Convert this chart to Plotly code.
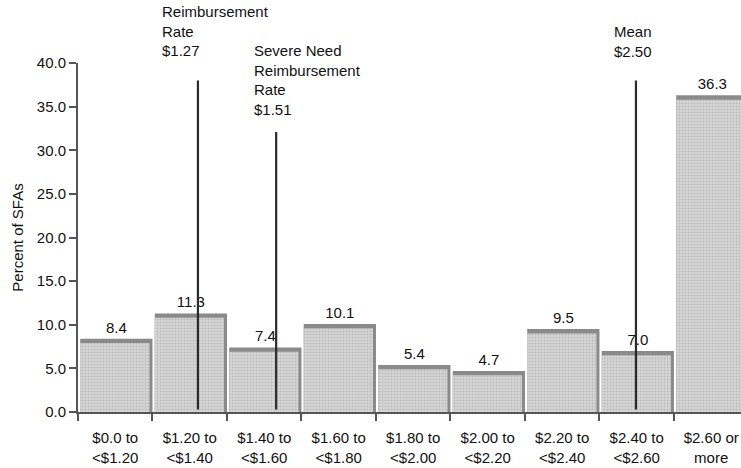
import plotly.graph_objects as go

# ---- data ----
categories = ["$0.0 to<br>&lt;$1.20", "$1.20 to<br>&lt;$1.40", "$1.40 to<br>&lt;$1.60",
              "$1.60 to<br>&lt;$1.80", "$1.80 to<br>&lt;$2.00", "$2.00 to<br>&lt;$2.20",
              "$2.20 to<br>&lt;$2.40", "$2.40 to<br>&lt;$2.60", "$2.60 or<br>more"]
percent_sfas = [8.4, 11.3, 7.4, 10.1, 5.4, 4.7, 9.5, 7.0, 36.3]
y_ticks = [0, 5, 10, 15, 20, 25, 30, 35, 40]

marker_labels = ["Reimbursement<br>Rate<br>$1.27",
                 "Severe Need<br>Reimbursement<br>Rate<br>$1.51",
                 "Mean<br>$2.50"]
marker_x = [1.11, 2.16, 6.99]        # position on the category axis
marker_top = [38.0, 32.1, 38.0]      # top of the reference line (percent)

idx = list(range(len(categories)))

FONT = "Liberation Sans, Arial, sans-serif"
TXT = "#111111"
FS = 15

fig = go.Figure()

# dark "shadow" bar (top band + right edge)
fig.add_trace(go.Bar(
    x=idx, y=percent_sfas, width=0.97, offset=-0.47,
    marker=dict(color="#8a8a8a", line=dict(width=0)),
    text=[f"{v:.1f}" for v in percent_sfas], textposition="outside",
    textfont=dict(family=FONT, size=FS, color=TXT),
    cliponaxis=False, hoverinfo="skip", showlegend=False))

# light stippled face
fig.add_trace(go.Bar(
    x=idx, y=[v - 0.5 for v in percent_sfas], width=0.93, offset=-0.47,
    marker=dict(color="#d2d2d2", line=dict(width=0),
                pattern=dict(shape=".", fgcolor="#9a9a9a", bgcolor="#d8d8d8",
                             size=3, solidity=0.4)),
    hoverinfo="skip", showlegend=False))

# reference lines
for xm, top in zip(marker_x, marker_top):
    fig.add_trace(go.Scatter(
        x=[xm, xm], y=[0.3, top], mode="lines",
        line=dict(color="#2b2b2b", width=2.2),
        hoverinfo="skip", showlegend=False))

label_dx = [-0.51, -0.325, -0.324]
label_y = [1.178, 1.066, 1.120]      # paper coords of text top
for lab, xm, dx, ly in zip(marker_labels, marker_x, label_dx, label_y):
    fig.add_annotation(x=xm + dx, y=ly, xref="x", yref="paper", text=lab,
                       showarrow=False, xanchor="left", yanchor="top", align="left",
                       font=dict(family=FONT, size=FS, color=TXT))

fig.update_layout(
    width=741, height=468,
    margin=dict(l=78, r=0, t=63, b=56, autoexpand=False),
    paper_bgcolor="white", plot_bgcolor="white",
    barmode="overlay",
    font=dict(family=FONT, size=FS, color=TXT),
    xaxis=dict(range=[-0.5, 8.4], tickmode="array", tickvals=idx, ticktext=categories,
               ticks="outside", ticklen=11, tickcolor="rgba(0,0,0,0)",
               showline=True, linecolor="#555555", linewidth=2,
               showgrid=False, zeroline=False, automargin=False,
               tickfont=dict(family=FONT, size=FS, color=TXT),
               minor=dict(tickmode="array", tickvals=[i - 0.5 for i in range(10)],
                          ticks="outside", ticklen=7, tickcolor="#555555", tickwidth=2)),
    yaxis=dict(range=[0, 40], tickmode="array", tickvals=y_ticks, tickformat=".1f",
               ticks="outside", ticklen=7, tickcolor="#555555", tickwidth=2,
               showline=True, linecolor="#555555", linewidth=2,
               showgrid=False, zeroline=False, automargin=True,
               tickfont=dict(family=FONT, size=FS, color=TXT),
               title=dict(text="Percent of SFAs", standoff=10,
                          font=dict(family=FONT, size=FS, color=TXT))),
)

# remove the page's default body margin so the figure fills the window exactly
fig.write_html("out.html", config={"displayModeBar": False},
               post_script="document.body.style.margin='0';")
